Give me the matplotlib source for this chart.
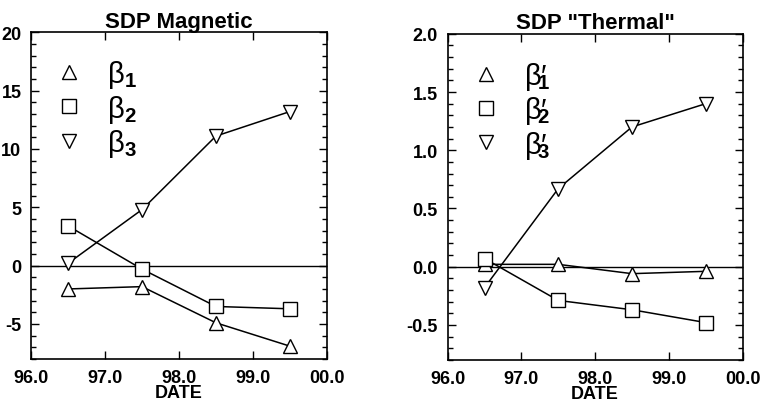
import numpy as np
import matplotlib
matplotlib.use('Agg')
import matplotlib.pyplot as plt
from matplotlib.ticker import MultipleLocator, FixedLocator

plt.rcParams['font.family'] = ['Liberation Sans', 'DejaVu Sans']
plt.rcParams['font.weight'] = 'bold'
plt.rcParams['axes.unicode_minus'] = False
plt.rcParams['mathtext.fontset'] = 'custom'
plt.rcParams['mathtext.rm'] = 'Liberation Sans'
plt.rcParams['mathtext.it'] = 'Liberation Sans'

# data
dates = [96.5, 97.5, 98.5, 99.5]
date_ticks = [96.0, 97.0, 98.0, 99.0, 100.0]
date_labels = ['96.0', '97.0', '98.0', '99.0', '00.0']

mag_b1 = [-2.0, -1.8, -4.9, -6.9]
mag_b2 = [3.4, -0.3, -3.5, -3.7]
mag_b3 = [0.2, 4.8, 11.1, 13.2]

th_b1 = [0.02, 0.02, -0.06, -0.04]
th_b2 = [0.07, -0.29, -0.37, -0.48]
th_b3 = [-0.18, 0.67, 1.20, 1.40]

mag_labels = ['β$_1$', 'β$_2$', 'β$_3$']
th_labels = ['β′$\\!\\!_1$', 'β′$\\!\\!_2$', 'β′$\\!\\!_3$']


def draw_panel(ax, series, labels, title, ylim, major, minor, yfmt):
    markers = ['^', 's', 'v']
    for vals, m, lab in zip(series, markers, labels):
        ax.plot(dates, vals, color='black', lw=1.1, marker=m, ms=9.5,
                mfc='white', mec='black', mew=1.0, label=lab)
    ax.axhline(0, color='black', lw=1.0, zorder=0)

    ax.set_xlim(96.0, 100.0)
    ax.set_ylim(*ylim)
    ax.xaxis.set_major_locator(FixedLocator(date_ticks))
    ax.set_xticklabels(date_labels)
    ax.yaxis.set_major_locator(MultipleLocator(major))
    ax.yaxis.set_minor_locator(MultipleLocator(minor))
    ax.yaxis.set_major_formatter(yfmt)
    ax.tick_params(which='both', direction='in', top=True, right=True,
                   labelsize=13, width=1.0, pad=7)
    ax.tick_params(which='major', length=6)
    ax.tick_params(which='minor', length=3.5)
    for sp in ax.spines.values():
        sp.set_linewidth(1.2)

    ax.set_title(title, fontsize=16, fontweight='bold', pad=4)
    ax.set_xlabel('DATE', fontsize=13, fontweight='bold', labelpad=-1)

    leg = ax.legend(loc='upper left', bbox_to_anchor=(0.04, 0.965),
                    frameon=False, handlelength=0.8,
                    handletextpad=0.9, labelspacing=0.08, borderpad=0,
                    prop={'size': 21, 'weight': 'normal'})
    for h in leg.legend_handles:
        h.set_linestyle('none')


fig = plt.figure(figsize=(7.6, 4.1), dpi=100)
ax1 = fig.add_axes([0.041, 0.122, 0.389, 0.797])
ax2 = fig.add_axes([0.589, 0.120, 0.388, 0.795])

draw_panel(ax1, [mag_b1, mag_b2, mag_b3], mag_labels, 'SDP Magnetic',
           (-8, 20), 5, 1, '{x:.0f}')
draw_panel(ax2, [th_b1, th_b2, th_b3], th_labels, 'SDP "Thermal"',
           (-0.8, 2.0), 0.5, 0.1, '{x:.1f}')

fig.savefig('out.png', dpi=100)
